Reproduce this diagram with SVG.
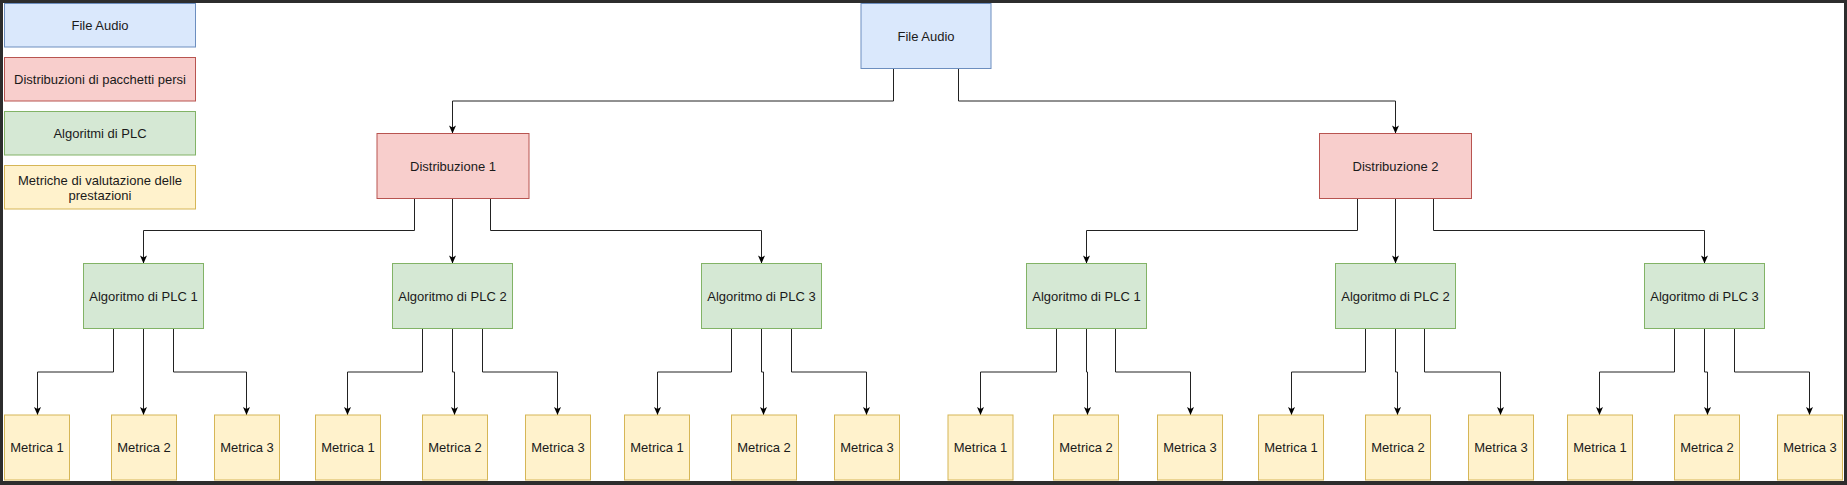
<svg xmlns="http://www.w3.org/2000/svg" width="1847" height="485" viewBox="0 0 1847 485">
<style>
text{font-family:"Liberation Sans",Arial,Helvetica,sans-serif;font-size:13px;fill:#1a1a1a;text-anchor:middle;dominant-baseline:central}
.blue{fill:#dae8fc;stroke:#6c8ebf;stroke-width:1}
.red{fill:#f8cecc;stroke:#b85450;stroke-width:1}
.green{fill:#d5e8d4;stroke:#82b366;stroke-width:1}
.yellow{fill:#fff2cc;stroke:#d6b656;stroke-width:1}
.edge{fill:none;stroke:#222;stroke-width:1;marker-end:url(#arr)}
.frame{fill:#2d2d2d}
</style>
<defs>
<marker id="arr" markerUnits="userSpaceOnUse" markerWidth="10" markerHeight="10" refX="9" refY="4" orient="auto">
<path d="M1,0.5 L9,4 L1,7.5 L3,4 Z" fill="#000"/>
</marker>
</defs>
<rect x="0" y="0" width="1847" height="485" fill="#ffffff"/>

<g id="legend">
<g id="legend-file-audio"><rect class="blue" x="4.5" y="3.5" width="191" height="43.5"/><text x="100" y="25">File Audio</text></g>
<g id="legend-distribuzioni"><rect class="red" x="4.5" y="57.5" width="191" height="43.5"/><text x="100" y="79">Distribuzioni di pacchetti persi</text></g>
<g id="legend-algoritmi"><rect class="green" x="4.5" y="111.5" width="191" height="43.5"/><text x="100" y="133">Algoritmi di PLC</text></g>
<g id="legend-metriche"><rect class="yellow" x="4.5" y="165.5" width="191" height="43.5"/><text x="100" y="180">Metriche di valutazione delle</text><text x="100" y="195">prestazioni</text></g>
</g>

<g id="connectors">
<path class="edge" d="M893.5,68.5 V101 H452.5 V133.5"/>
<path class="edge" d="M958.5,68.5 V101 H1395.5 V133.5"/>
<path class="edge" d="M414.5,198.5 V230.5 H143.5 V263.5"/>
<path class="edge" d="M452.5,198.5 V263.5"/>
<path class="edge" d="M490.5,198.5 V230.5 H761.5 V263.5"/>
<path class="edge" d="M1357.5,198.5 V230.5 H1086.5 V263.5"/>
<path class="edge" d="M1395.5,198.5 V263.5"/>
<path class="edge" d="M1433.5,198.5 V230.5 H1704.5 V263.5"/>
<path class="edge" d="M113.5,328.5 V372 H37.5 V415"/>
<path class="edge" d="M143.5,328.5 V415"/>
<path class="edge" d="M173.5,328.5 V372 H246.5 V415"/>
<path class="edge" d="M422.5,328.5 V372 H347.5 V415"/>
<path class="edge" d="M452.5,328.5 V372 H454.5 V415"/>
<path class="edge" d="M482.5,328.5 V372 H557.5 V415"/>
<path class="edge" d="M731.5,328.5 V372 H657.5 V415"/>
<path class="edge" d="M761.5,328.5 V372 H763.5 V415"/>
<path class="edge" d="M791.5,328.5 V372 H866.5 V415"/>
<path class="edge" d="M1056.5,328.5 V372 H980.5 V415"/>
<path class="edge" d="M1086.5,328.5 V372 H1087.5 V415"/>
<path class="edge" d="M1115.5,328.5 V372 H1190.5 V415"/>
<path class="edge" d="M1365.5,328.5 V372 H1291.5 V415"/>
<path class="edge" d="M1395.5,328.5 V372 H1397.5 V415"/>
<path class="edge" d="M1424.5,328.5 V372 H1500.5 V415"/>
<path class="edge" d="M1674.5,328.5 V372 H1599.5 V415"/>
<path class="edge" d="M1704.5,328.5 V372 H1707.5 V415"/>
<path class="edge" d="M1734.5,328.5 V372 H1809.5 V415"/>
</g>

<g id="file-audio"><rect class="blue" x="861" y="3.5" width="130" height="65"/><text x="926" y="36">File Audio</text></g>
<g id="dist-1"><rect class="red" x="377" y="133.5" width="152" height="65"/><text x="453" y="166">Distribuzione 1</text></g>
<g id="dist-2"><rect class="red" x="1319.5" y="133.5" width="152" height="65"/><text x="1395.5" y="166">Distribuzione 2</text></g>

<g id="d1-plc1"><rect class="green" x="83.5" y="263.5" width="120" height="65"/><text x="143.5" y="296">Algoritmo di PLC 1</text></g>
<g id="d1-plc2"><rect class="green" x="392.5" y="263.5" width="120" height="65"/><text x="452.5" y="296">Algoritmo di PLC 2</text></g>
<g id="d1-plc3"><rect class="green" x="701.5" y="263.5" width="120" height="65"/><text x="761.5" y="296">Algoritmo di PLC 3</text></g>
<g id="d2-plc1"><rect class="green" x="1026.5" y="263.5" width="120" height="65"/><text x="1086.5" y="296">Algoritmo di PLC 1</text></g>
<g id="d2-plc2"><rect class="green" x="1335.5" y="263.5" width="120" height="65"/><text x="1395.5" y="296">Algoritmo di PLC 2</text></g>
<g id="d2-plc3"><rect class="green" x="1644.5" y="263.5" width="120" height="65"/><text x="1704.5" y="296">Algoritmo di PLC 3</text></g>

<g id="d1-plc1-m1"><rect class="yellow" x="4.5" y="415" width="65" height="65"/><text x="37" y="447.5">Metrica 1</text></g>
<g id="d1-plc1-m2"><rect class="yellow" x="111.5" y="415" width="65" height="65"/><text x="144" y="447.5">Metrica 2</text></g>
<g id="d1-plc1-m3"><rect class="yellow" x="214.5" y="415" width="65" height="65"/><text x="247" y="447.5">Metrica 3</text></g>
<g id="d1-plc2-m1"><rect class="yellow" x="315.5" y="415" width="65" height="65"/><text x="348" y="447.5">Metrica 1</text></g>
<g id="d1-plc2-m2"><rect class="yellow" x="422.5" y="415" width="65" height="65"/><text x="455" y="447.5">Metrica 2</text></g>
<g id="d1-plc2-m3"><rect class="yellow" x="525.5" y="415" width="65" height="65"/><text x="558" y="447.5">Metrica 3</text></g>
<g id="d1-plc3-m1"><rect class="yellow" x="624.5" y="415" width="65" height="65"/><text x="657" y="447.5">Metrica 1</text></g>
<g id="d1-plc3-m2"><rect class="yellow" x="731.5" y="415" width="65" height="65"/><text x="764" y="447.5">Metrica 2</text></g>
<g id="d1-plc3-m3"><rect class="yellow" x="834.5" y="415" width="65" height="65"/><text x="867" y="447.5">Metrica 3</text></g>
<g id="d2-plc1-m1"><rect class="yellow" x="948" y="415" width="65" height="65"/><text x="980.5" y="447.5">Metrica 1</text></g>
<g id="d2-plc1-m2"><rect class="yellow" x="1053.5" y="415" width="65" height="65"/><text x="1086" y="447.5">Metrica 2</text></g>
<g id="d2-plc1-m3"><rect class="yellow" x="1157.5" y="415" width="65" height="65"/><text x="1190" y="447.5">Metrica 3</text></g>
<g id="d2-plc2-m1"><rect class="yellow" x="1258.5" y="415" width="65" height="65"/><text x="1291" y="447.5">Metrica 1</text></g>
<g id="d2-plc2-m2"><rect class="yellow" x="1365.5" y="415" width="65" height="65"/><text x="1398" y="447.5">Metrica 2</text></g>
<g id="d2-plc2-m3"><rect class="yellow" x="1468.5" y="415" width="65" height="65"/><text x="1501" y="447.5">Metrica 3</text></g>
<g id="d2-plc3-m1"><rect class="yellow" x="1567.5" y="415" width="65" height="65"/><text x="1600" y="447.5">Metrica 1</text></g>
<g id="d2-plc3-m2"><rect class="yellow" x="1674.5" y="415" width="65" height="65"/><text x="1707" y="447.5">Metrica 2</text></g>
<g id="d2-plc3-m3"><rect class="yellow" x="1777.5" y="415" width="65" height="65"/><text x="1810" y="447.5">Metrica 3</text></g>

<g id="frame">
<rect class="frame" x="0" y="0" width="1847" height="3"/>
<rect class="frame" x="0" y="0" width="3" height="485"/>
<rect class="frame" x="1844" y="0" width="3" height="485"/>
<rect class="frame" x="0" y="481" width="1847" height="4"/>
</g>
</svg>
